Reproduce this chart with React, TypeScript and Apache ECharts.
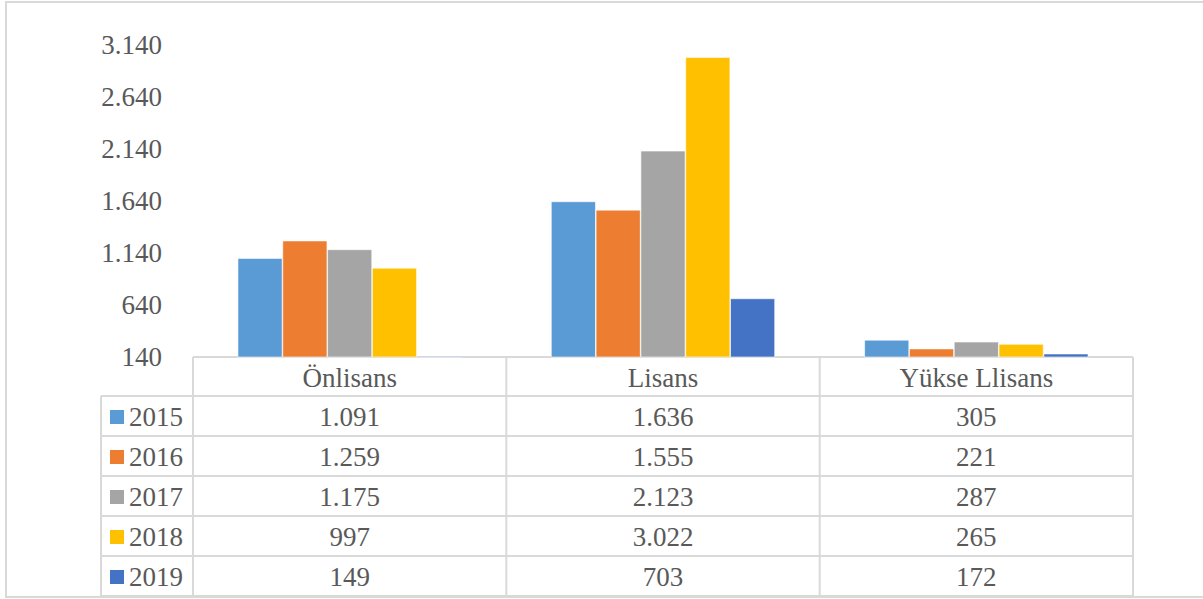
import React, { useEffect, useRef } from "react";
import * as echarts from "echarts";

const categories = ["Önlisans", "Lisans", "Yükse Llisans"];
const years = ["2015", "2016", "2017", "2018", "2019"];
const values2015 = [1091, 1636, 305];
const values2016 = [1259, 1555, 221];
const values2017 = [1175, 2123, 287];
const values2018 = [997, 3022, 265];
const values2019 = [149, 703, 172];
const seriesValues = [values2015, values2016, values2017, values2018, values2019];
const colors = ["#5B9BD5", "#ED7D31", "#A5A5A5", "#FFC000", "#4472C4"];
const yMin = 140;
const yMax = 3140;
const yInterval = 500;

const W = 1203;
const H = 599;
const FONT = "Times New Roman";
const TEXT = "#595959";
const LINE = "#D9D9D9";
const FS = 27;

const gridL = 193;
const gridR = 1133;
const gridT = 45;
const gridB = 357;
const headerBottom = 396;
const rowH = 40;
const legendL = 101;

function fmt(v: number): string {
  return String(v).replace(/\B(?=(\d{3})+(?!\d))/g, ".");
}

function txt(x: number, y: number, text: string, align: string) {
  return {
    type: "text",
    x,
    y,
    style: { text, fill: TEXT, fontSize: FS, fontFamily: FONT, align, verticalAlign: "middle" },
  };
}

function buildGraphic() {
  const els: any[] = [];
  const lineStyle = { stroke: LINE, lineWidth: 2 };
  const bottom = headerBottom + rowH * years.length;
  els.push({ type: "rect", shape: { x: 6, y: 2, width: 1200, height: 595 }, style: { fill: "none", stroke: LINE, lineWidth: 2 }, silent: true });
  els.push({ type: "line", shape: { x1: gridL, y1: gridB, x2: gridR, y2: gridB }, style: lineStyle });
  for (let i = 0; i <= years.length; i++) {
    const y = headerBottom + rowH * i;
    els.push({ type: "line", shape: { x1: legendL, y1: y, x2: gridR, y2: y }, style: lineStyle });
  }
  els.push({ type: "line", shape: { x1: legendL, y1: headerBottom, x2: legendL, y2: bottom }, style: lineStyle });
  const colW = (gridR - gridL) / categories.length;
  for (let c = 0; c <= categories.length; c++) {
    const x = gridL + colW * c;
    els.push({ type: "line", shape: { x1: x, y1: gridB, x2: x, y2: bottom }, style: lineStyle });
  }
  categories.forEach((cat, c) => {
    els.push(txt(gridL + colW * (c + 0.5), (gridB + headerBottom) / 2 + 1, cat, "center"));
  });
  years.forEach((yr, r) => {
    const cy = headerBottom + rowH * (r + 0.5) + 1;
    els.push({ type: "rect", shape: { x: 110, y: cy - 7, width: 14, height: 14 }, style: { fill: colors[r] } });
    els.push(txt(129, cy, yr, "left"));
    seriesValues[r].forEach((v, c) => {
      els.push(txt(gridL + colW * (c + 0.5), cy, fmt(v), "center"));
    });
  });
  return els;
}

export default function App() {
  const ref = useRef<HTMLDivElement>(null);
  useEffect(() => {
    if (!ref.current) return;
    const chart = echarts.init(ref.current, null, { renderer: "svg" });
    chart.setOption({
      animation: false,
      backgroundColor: "#fff",
      textStyle: { fontFamily: FONT },
      grid: { left: gridL, right: W - gridR, top: gridT, bottom: H - gridB, containLabel: false },
      xAxis: {
        type: "category",
        data: categories,
        axisLine: { show: false },
        axisTick: { show: false },
        axisLabel: { show: false },
      },
      yAxis: {
        type: "value",
        min: yMin,
        max: yMax,
        interval: yInterval,
        splitLine: { show: false },
        axisLine: { show: false },
        axisTick: { show: false },
        axisLabel: {
          formatter: (v: number) => fmt(v),
          color: TEXT,
          fontSize: FS,
          fontFamily: FONT,
          margin: 31,
        },
      },
      series: years.map((yr, i) => ({
        name: yr,
        type: "bar",
        data: seriesValues[i],
        barGap: "0%",
        barCategoryGap: "28.5%",
        itemStyle: { color: colors[i], borderColor: "#fff", borderWidth: 0.6 },
      })),
      graphic: buildGraphic(),
    });
    return () => chart.dispose();
  }, []);
  return <div ref={ref} style={{ position: "fixed", left: 0, top: 0, width: W, height: H }} />;
}
